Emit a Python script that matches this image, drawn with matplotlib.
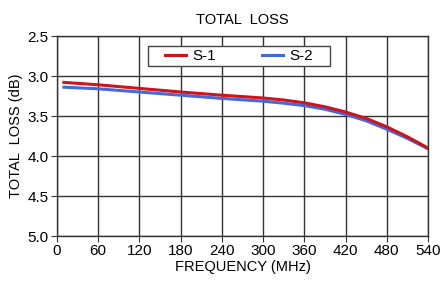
import matplotlib
matplotlib.use("Agg")
import matplotlib.pyplot as plt
from matplotlib.patches import Rectangle

plt.rcParams['font.family'] = ['Liberation Sans', 'DejaVu Sans']

# values
freq = [10, 60, 120, 180, 240, 300, 330, 360, 390, 420, 450, 480, 510, 540]
s1_loss = [3.08, 3.11, 3.155, 3.20, 3.24, 3.275, 3.30, 3.335, 3.385, 3.45, 3.53, 3.635, 3.76, 3.90]
s2_loss = [3.14, 3.16, 3.20, 3.24, 3.28, 3.315, 3.34, 3.37, 3.415, 3.48, 3.56, 3.665, 3.78, 3.91]

xticks = [0, 60, 120, 180, 240, 300, 360, 420, 480, 540]
yticks = [2.5, 3.0, 3.5, 4.0, 4.5, 5.0]

fig = plt.figure(figsize=(4.41, 2.86), dpi=100)
ax = fig.add_axes([57 / 441, 50 / 286, 371 / 441, 200 / 286])

ax.plot(freq, s2_loss, color='#4169e1', lw=2.2, label='S-2', zorder=3)
ax.plot(freq, s1_loss, color='#d0121b', lw=2.2, label='S-1', zorder=4)

ax.set_xlim(0, 540)
ax.set_ylim(5.0, 2.5)
ax.set_xticks(xticks)
ax.set_yticks(yticks)
ax.set_yticklabels([f'{v:.1f}' for v in yticks])
ax.grid(True, color='#333333', lw=1.0)
for s in ax.spines.values():
    s.set_color('#333333')
    s.set_linewidth(1.0)
ax.tick_params(direction='out', length=4, color='#333333', labelsize=11, pad=2)

ax.set_title('TOTAL  LOSS', fontsize=10.5, pad=9)
ax.set_xlabel('FREQUENCY (MHz)', fontsize=10.5, labelpad=1)
ax.set_ylabel('TOTAL  LOSS (dB)', fontsize=10.5, labelpad=3)

# legend box drawn separately so the entries can sit in the middle of it
box = Rectangle((91 / 371, 1 - 30 / 200), 182 / 371, 20 / 200, transform=ax.transAxes,
                facecolor='white', edgecolor='#444444', lw=1.0, zorder=5)
ax.add_patch(box)
handles, labels = ax.get_legend_handles_labels()
leg = ax.legend(handles[::-1], labels[::-1], ncol=2, loc='center',
                bbox_to_anchor=(182 / 371, 1 - 20 / 200), frameon=False,
                fontsize=11, handlelength=1.4, handletextpad=0.4,
                columnspacing=3.0, borderpad=0, borderaxespad=0)
leg.set_zorder(6)

fig.savefig('out.png', dpi=100)
